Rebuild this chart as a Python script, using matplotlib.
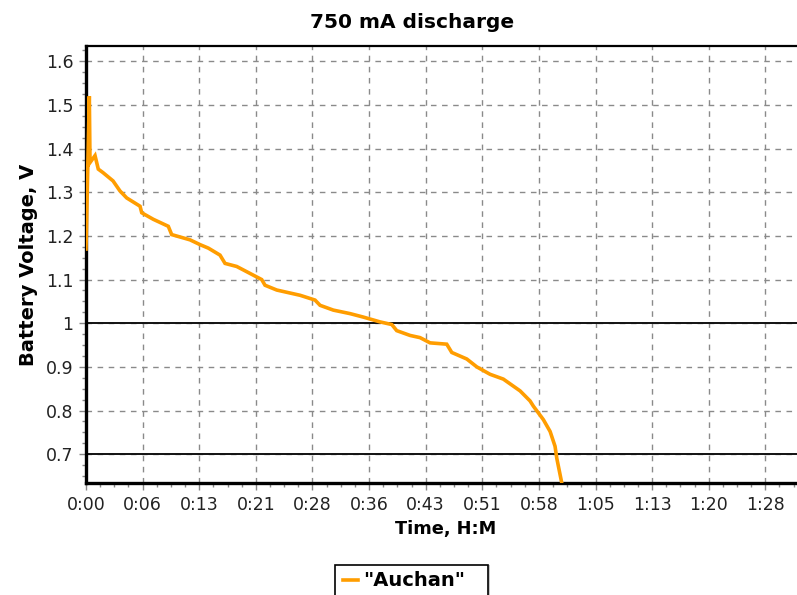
import matplotlib
matplotlib.use("Agg")
import matplotlib.pyplot as plt
from matplotlib.ticker import FixedLocator, MultipleLocator, FuncFormatter
from matplotlib.patches import Rectangle
import numpy as np

# Data (minutes, volts)
time_min = [0.0, 0.43, 0.52, 1.17, 1.59, 2.20, 3.50, 4.40, 5.27, 7.00, 7.22, 8.72,
            10.66, 11.10, 13.47, 14.77, 15.85, 17.36, 18.01, 19.52, 21.25, 22.76,
            23.19, 24.71, 27.73, 29.67, 30.32, 32.04, 34.20, 35.93, 38.09, 39.61,
            40.25, 41.98, 43.27, 44.57, 46.73, 47.38, 49.33, 50.62, 52.34, 54.06,
            56.23, 57.52, 57.95, 59.25, 60.12, 60.76, 60.98, 61.63, 61.80]
voltage = [1.17, 1.52, 1.368, 1.384, 1.353, 1.345, 1.326, 1.303, 1.287, 1.268, 1.253,
           1.238, 1.222, 1.203, 1.191, 1.180, 1.172, 1.156, 1.137, 1.130, 1.114, 1.100,
           1.087, 1.076, 1.064, 1.053, 1.041, 1.030, 1.022, 1.014, 1.003, 0.997,
           0.983, 0.972, 0.967, 0.955, 0.952, 0.933, 0.918, 0.900, 0.883, 0.872,
           0.845, 0.822, 0.810, 0.779, 0.752, 0.718, 0.691, 0.634, 0.600]
series_name = '"Auchan"'
x_tick_labels = ["0:00", "0:06", "0:13", "0:21", "0:28", "0:36", "0:43", "0:51",
                 "0:58", "1:05", "1:13", "1:20", "1:28"]
y_ticks = [0.7, 0.8, 0.9, 1.0, 1.1, 1.2, 1.3, 1.4, 1.5, 1.6]
ref_lines = [1.0, 0.7]

W, H = 797, 595
fig = plt.figure(figsize=(W / 100, H / 100), dpi=100)
ax = fig.add_axes([86 / W, 1 - 483 / H, 1 - 86 / W + 0.01, (483 - 46) / H])

step = 88 / 12
x_ticks = [i * step for i in range(len(x_tick_labels))]

line, = ax.plot(time_min, voltage, color="#FF9D00", lw=2.6, label=series_name,
                zorder=3, solid_joinstyle="miter")

ax.set_xlim(0, 92.1 + 0.01 * W / 56.6 * step)
ax.set_ylim(0.634, 1.635)

ax.xaxis.set_major_locator(FixedLocator(x_ticks))
ax.set_xticklabels(x_tick_labels)
ax.xaxis.set_minor_locator(MultipleLocator(step / 4))
ax.yaxis.set_major_locator(FixedLocator(y_ticks))
ax.yaxis.set_major_formatter(FuncFormatter(lambda v, p: f"{v:g}"))
ax.yaxis.set_minor_locator(MultipleLocator(0.025))

ax.grid(True, which="major", color="#8a8a8a", linestyle=(0, (4, 4)), lw=1.0)
for yv in ref_lines:
    ax.axhline(yv, color="#111111", lw=1.4, zorder=2)

for s in ["left", "bottom"]:
    ax.spines[s].set_linewidth(2.4)
    ax.spines[s].set_color("black")
ax.spines["top"].set_linewidth(1.6)
ax.spines["right"].set_visible(False)

ax.tick_params(axis="both", which="major", length=5, width=1, color="#888888",
               labelsize=12.5, labelcolor="#222222", pad=4)
ax.tick_params(axis="both", which="minor", length=3, width=1, color="#888888")

ax.set_xlabel("Time, H:M", fontsize=12.8, fontweight="bold", labelpad=5)
ax.set_ylabel("Battery Voltage, V", fontsize=14, fontweight="bold", labelpad=6)

fig.text(412 / W, 1 - 23 / H, "750 mA discharge", ha="center", va="center",
         fontsize=14.5, fontweight="bold")

leg = fig.legend(handles=[line], labels=[series_name], loc="center left",
                 bbox_to_anchor=(343 / W, 1 - 581 / H), borderaxespad=0,
                 prop={"weight": "bold", "size": 14}, frameon=False,
                 handlelength=0.75, handletextpad=0.3, borderpad=0)

# legend frame with shadow
fig.patches.append(Rectangle((338 / W, 1 - 601 / H), 152 / W, 36 / H,
                             transform=fig.transFigure, facecolor="#c8c8c8",
                             edgecolor="none", zorder=0))
fig.patches.append(Rectangle((335 / W, 1 - 598 / H), 153 / W, 33 / H,
                             transform=fig.transFigure, facecolor="white",
                             edgecolor="black", lw=1.2, zorder=1))

fig.savefig("out.png", dpi=100)
